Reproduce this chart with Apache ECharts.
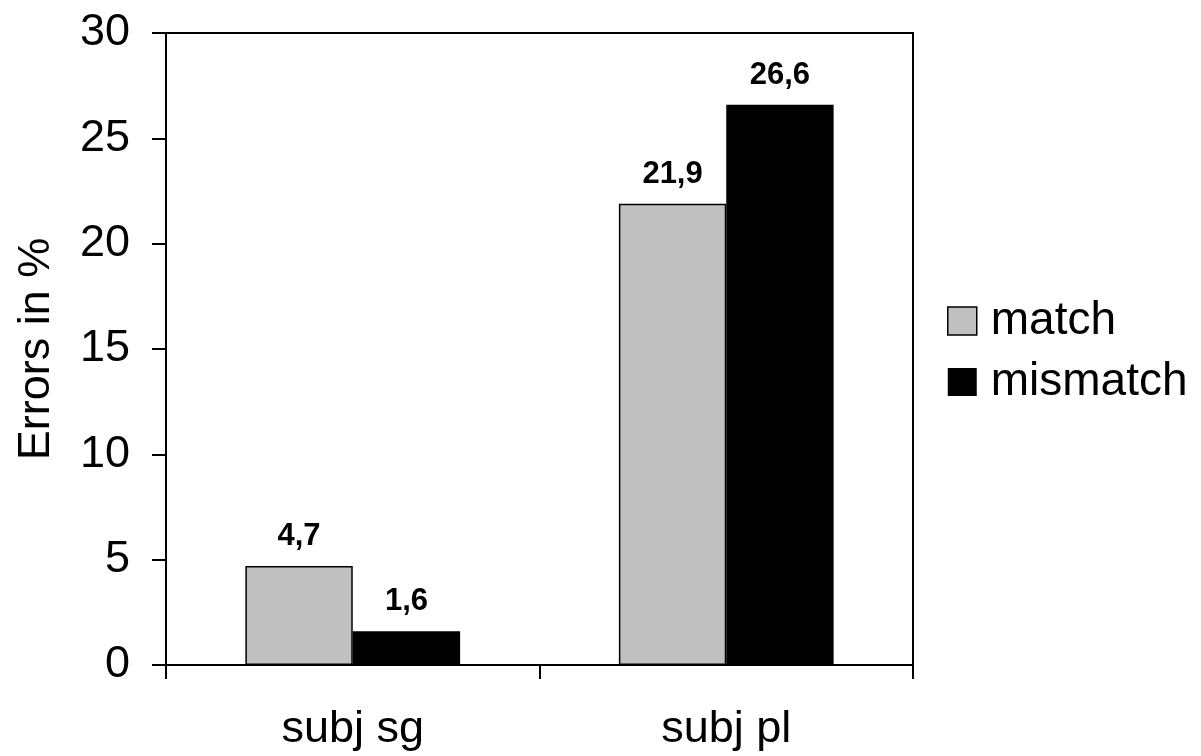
<!DOCTYPE html>
<html>
<head>
<meta charset="utf-8">
<script src="https://cdn.jsdelivr.net/npm/echarts@6/dist/echarts.min.js"></script>
<style>html,body{margin:0;padding:0;background:#fff}#c{width:1201px;height:756px}</style>
</head>
<body>
<div id="c"></div>
<script>
var categories = ['subj sg', 'subj pl'];
var seriesNames = ['match', 'mismatch'];
var matchValues = [4.7, 21.9];
var mismatchValues = [1.6, 26.6];
var yTicks = [0, 5, 10, 15, 20, 25, 30];

var FONT = 'Liberation Sans, Arial, sans-serif';
var BIG = 45;
var chart = echarts.init(document.getElementById('c'));
function fmt(p){ return String(p.value).replace('.', ','); }
var labelStyle = {show: true, position: 'top', distance: 14, formatter: fmt, fontFamily: FONT, fontWeight: 'bold', fontSize: 31, color: '#000'};
chart.setOption({
  animation: false,
  backgroundColor: '#fff',
  textStyle: {fontFamily: FONT},
  grid: {left: 166, right: 288, top: 33, bottom: 91, show: true, borderColor: '#000', borderWidth: 2, backgroundColor: 'transparent'},
  legend: {
    orient: 'vertical', left: 942, top: 293, itemWidth: 29, itemHeight: 28, itemGap: 15,
    textStyle: {fontFamily: FONT, fontSize: 46, lineHeight: 46, color: '#000', padding: [0,0,0,9]},
    data: [
      {name: seriesNames[0], icon: 'rect', itemStyle: {color: '#C0C0C0', borderColor: '#000', borderWidth: 1.5}},
      {name: seriesNames[1], icon: 'rect', itemStyle: {color: '#000'}}
    ]
  },
  xAxis: {
    type: 'category', data: categories,
    axisLine: {lineStyle: {color: '#000', width: 2}},
    axisTick: {show: true, length: 14, lineStyle: {color: '#000', width: 2}},
    axisLabel: {fontFamily: FONT, fontSize: BIG, color: '#000', margin: 42}
  },
  yAxis: {
    type: 'value', min: yTicks[0], max: yTicks[yTicks.length-1], interval: 5,
    name: 'Errors in %', nameLocation: 'middle', nameGap: 107,
    nameTextStyle: {fontFamily: FONT, fontSize: BIG, color: '#000'},
    axisLine: {show: true, lineStyle: {color: '#000', width: 2}},
    axisTick: {show: true, length: 14, lineStyle: {color: '#000', width: 2}},
    axisLabel: {fontFamily: FONT, fontSize: BIG, color: '#000', margin: 36},
    splitLine: {show: false}
  },
  series: [
    {name: seriesNames[0], type: 'bar', data: matchValues, barGap: '0%', barCategoryGap: '42.5%',
     itemStyle: {color: '#C0C0C0', borderColor: '#000', borderWidth: 1.5}, label: labelStyle},
    {name: seriesNames[1], type: 'bar', data: mismatchValues,
     itemStyle: {color: '#000'}, label: labelStyle}
  ]
});
</script>
</body>
</html>
